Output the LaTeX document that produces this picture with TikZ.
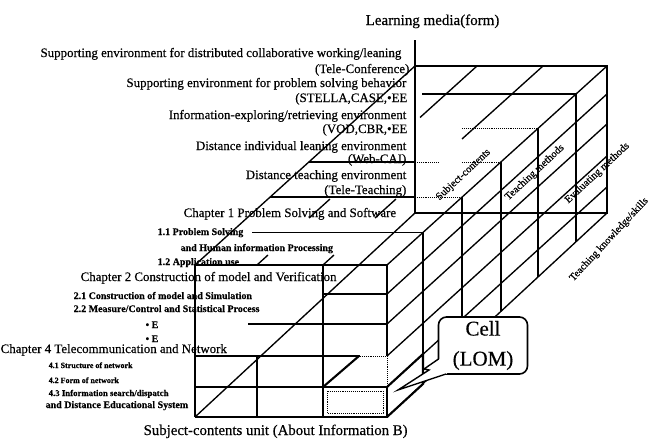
\documentclass[tikz,border=0pt]{standalone}
\usepackage{fontspec}
\setmainfont{Liberation Serif}[FakeBold=0.4]
\begin{document}
\begin{tikzpicture}[x=1pt,y=-1pt,line width=1.35pt,
    faint/.style={line width=0.9pt,densely dotted},
    cellline/.style={line width=2.1pt},
    media/.style={anchor=base east,inner sep=0pt,font=\fontsize{12.9}{15}\selectfont},
    chap/.style={anchor=base west,inner sep=0pt,font=\fontsize{12.9}{15}\selectfont},
    sect/.style={anchor=base west,inner sep=0pt,font=\bfseries\fontsize{10}{12}\selectfont},
    layer/.style={anchor=base west,inner sep=0pt,rotate=43,font=\fontsize{10.5}{12}\selectfont}]
  \useasboundingbox (0,0) rectangle (656,439);
  \draw (195,417) -- (195,265) -- (387,265) -- (387,356);
  \draw (195,417) -- (323,417);
  \draw[faint] (387,356) -- (387,387);
  \draw (415,40) -- (415,213) -- (607,213) -- (607,66) -- (415,66);
  \draw (195,265) -- (415,66) (387,265) -- (607,66);
  \draw (195,417) -- (415,213) (387,417) -- (607,213);
  \draw (323,265) -- (323,387) (257,356) -- (257,417);
  \draw (323,294) -- (387,294) (248,324) -- (387,324);
  \draw (195,356) -- (360,356) (195,387) -- (323,387);
  \draw[faint] (360,356) -- (387,356);
  \foreach \r in {294,324,356,387}
    \draw (387,\r) -- (607,\r-200);
  \foreach \d in {36,75,114,151,189}
    \draw (387+\d,265-0.905*\d) -- (387+\d,417-0.927*\d);
  \draw (252,232.4) -- (423,232.4);
  \draw (270,197) -- (415,197) (309,162) -- (415,162) (422,94) -- (576,94);
  \draw[faint] (415,197) -- (462,197) (415,162) -- (438,162) (462,162) -- (501,162)
    (462,128.3) -- (538,128.3);
  \draw (257,265) -- (268,255) (309,218) -- (330,199) (420,117.5) -- (477,66);
  \draw (323,265) -- (334,255) (375,218) -- (396,199) (462,139) -- (543,66);

  \draw[cellline] (323,387) rectangle (387,417);
  \draw[faint,line width=0.5pt] (327,391) rectangle (383,413);
  \draw[cellline] (323,387) -- (359,356) (387,387) -- (423,354) -- (423,384) -- (387,417);

  \coordinate (celltip) at (398,390);
  \node[draw,line width=1.6pt,rounded corners=8pt,fill=white,minimum width=89pt,
    minimum height=57pt,align=center,inner sep=0pt,
    font=\fontsize{21}{30}\selectfont] (callout) at (483,345.5) {Cell\\(LOM)};
  \fill[white] (440,359) -- (424,369) -- (429,370) -- (celltip) -- (447,373.5) -- (446,362) -- cycle;
  \draw[line width=1.4pt] (438.5,359) -- (424,369) -- (429,370) -- (celltip) -- (446,374);

  \node[anchor=base west,inner sep=0pt,font=\fontsize{15}{18}\selectfont] (mediaaxis) at (365,25) {Learning media(form)};
  \node[media] (conf1) at (402,57) {Supporting environment for distributed collaborative working/leaning};
  \node[media] (conf2) at (410,73) {(Tele-Conference)};
  \node[media] (solve1) at (407,87) {Supporting environment for problem solving behavior};
  \node[media] (solve2) at (408,102) {(STELLA,CASE,•EE};
  \node[media] (vod1) at (407,119) {Information-exploring/retrieving environment};
  \node[media] (vod2) at (408,133) {(VOD,CBR,•EE};
  \node[media] (cai1) at (407,150) {Distance individual leaning environment};
  \node[media] (cai2) at (407,163) {(Web-CAI)};
  \node[media] (teach1) at (407,179) {Distance teaching environment};
  \node[media] (teach2) at (407,194) {(Tele-Teaching)};

  \node[chap] (ch1) at (183,217) {Chapter 1 Problem Solving and Software};
  \node[sect] (s11) at (157,235) {1.1 Problem Solving};
  \node[sect] (s11b) at (180,251) {and Human information Processing};
  \node[sect] (s12) at (157,265) {1.2 Application use};
  \node[chap] (ch2) at (80,281) {Chapter 2 Construction of model and Verification};
  \node[sect] (s21) at (73,299) {2.1 Construction of model and Simulation};
  \node[sect] (s22) at (73,312) {2.2 Measure/Control and Statistical Process};
  \node[sect] (dot1) at (145,328) {• E};
  \node[sect] (dot2) at (145,342) {• E};
  \node[chap] (ch4) at (0,353) {Chapter 4 Telecommunication and Network};
  \node[sect,font=\bfseries\fontsize{8}{10}\selectfont] (s41) at (48,368) {4.1 Structure of network};
  \node[sect,font=\bfseries\fontsize{8}{10}\selectfont] (s42) at (48,383) {4.2 Form of network};
  \node[sect,font=\bfseries\fontsize{8.8}{10}\selectfont] (s43) at (48,396) {4.3 Information search/dispatch};
  \node[sect] (s43b) at (45,408) {and Distance Educational System};
  \node[anchor=base west,inner sep=0pt,font=\fontsize{14.8}{17}\selectfont] (unit) at (143,435) {Subject-contents unit (About Information B)};

  \node[layer] (subj) at (439,201) {Subject-contents};
  \node[layer] (tmeth) at (508,201) {Teaching methods};
  \node[layer] (emeth) at (568,204) {Evaluating methods};
  \node[anchor=base west,inner sep=0pt,rotate=47,font=\fontsize{10.3}{12}\selectfont] (tskill) at (573,282) {Teaching knowledge/skills};
\end{tikzpicture}
\end{document}
